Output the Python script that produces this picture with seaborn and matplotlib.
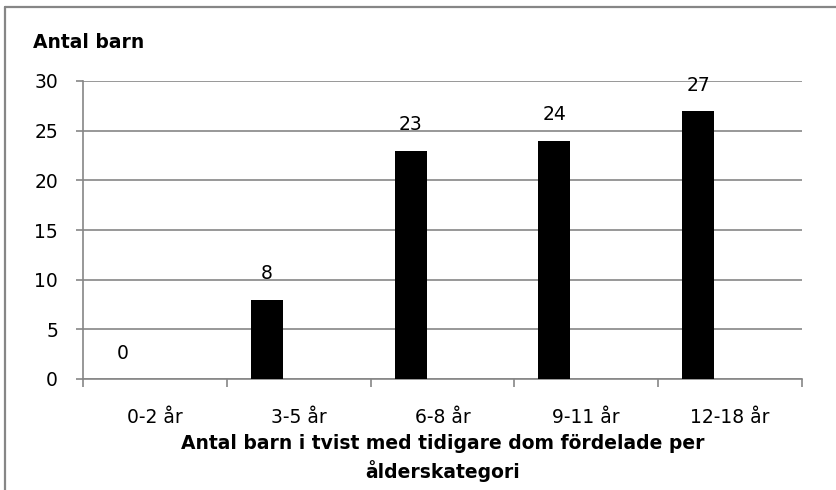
import matplotlib
matplotlib.use("Agg")
import matplotlib.pyplot as plt
import matplotlib.lines as mlines
import pandas as pd
import seaborn as sns

# data
categories = ["0-2 år", "3-5 år", "6-8 år", "9-11 år", "12-18 år"]
antal_barn = [0, 8, 23, 24, 27]
y_ticks = [0, 5, 10, 15, 20, 25, 30]

y_title = "Antal barn"
x_title = "Antal barn i tvist med tidigare dom fördelade per\nålderskategori"

sns.set_theme(style="white")
plt.rcParams["font.family"] = ["DejaVu Sans"]

grey = "#868686"
fs = 13.5

# Excel-style cluster with three slots, only the first one carries values
series = ["Antal", "_s2", "_s3"]
df = pd.DataFrame({
    "kategori": categories * 3,
    "antal": antal_barn + [0] * len(categories) * 2,
    "serie": [s for s in series for _ in categories],
})

fig = plt.figure(figsize=(8.36, 4.9), dpi=100)
ax = fig.add_axes([83 / 836, 1 - 379 / 490, (802 - 83) / 836, (379 - 81) / 490])

sns.barplot(data=df, x="kategori", y="antal", hue="serie", hue_order=series,
            palette={"Antal": "black", "_s2": "white", "_s3": "white"},
            width=0.667, saturation=1, linewidth=0, legend=False, ax=ax, zorder=3)

for bar, v in zip(ax.containers[0], antal_barn):
    ax.annotate(str(v), xy=(bar.get_x() + bar.get_width() / 2, v),
                xytext=(0, 14.5), textcoords="offset points",
                ha="center", va="baseline", fontsize=fs, color="black")

ax.set_ylim(0, 30)
ax.set_xlim(-0.5, len(categories) - 0.5)
ax.set_yticks(y_ticks)
ax.yaxis.grid(True, color=grey, linewidth=1.2, zorder=0)
ax.set_axisbelow(True)

ax.set_xticks(range(len(categories)))
ax.set_xticklabels(categories)
ax.set_xticks([i - 0.5 for i in range(len(categories) + 1)], minor=True)
ax.tick_params(axis="x", which="major", length=0, pad=21, labelsize=fs, labelcolor="black")
ax.tick_params(axis="x", which="minor", length=6, width=1.2, color=grey, direction="out", bottom=True)
ax.tick_params(axis="y", length=5, width=1.2, color=grey, direction="out", left=True,
               pad=13, labelsize=fs, labelcolor="black")

for s in ["top", "right"]:
    ax.spines[s].set_visible(False)
for s in ["left", "bottom"]:
    ax.spines[s].set_color(grey)
    ax.spines[s].set_linewidth(1.2)

ax.set_xlabel(x_title, fontsize=fs, fontweight="bold", color="black",
              labelpad=5, linespacing=1.4)
ax.set_ylabel("")

fig.text(33 / 836, 1 - 48 / 490, y_title, fontsize=fs, fontweight="bold",
         ha="left", va="baseline", color="black")

# outer chart frame
fig.add_artist(mlines.Line2D([5 / 836, 5 / 836], [0, 1 - 7 / 490],
                             transform=fig.transFigure, color=grey, linewidth=1.6))
fig.add_artist(mlines.Line2D([5 / 836, 1], [1 - 7 / 490, 1 - 7 / 490],
                             transform=fig.transFigure, color=grey, linewidth=1.6))

fig.savefig("out.png", dpi=100, facecolor="white")
